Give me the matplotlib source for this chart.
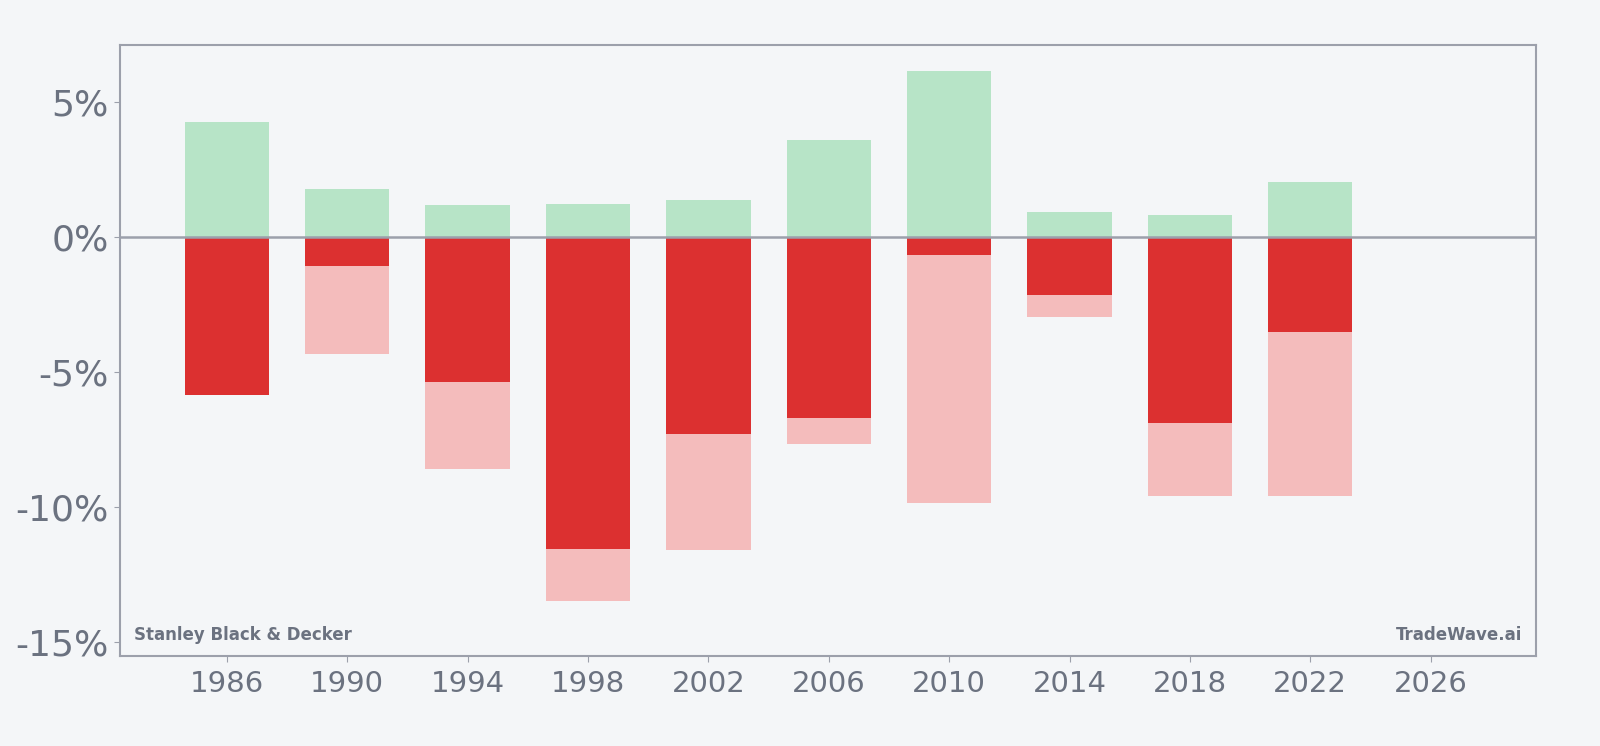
import numpy as np
import matplotlib
matplotlib.use("Agg")
import matplotlib.pyplot as plt
from matplotlib.ticker import FuncFormatter

# yearly values in percent
years = [1986, 1990, 1994, 1998, 2002, 2006, 2010, 2014, 2018, 2022]
gains = [4.25, 1.77, 1.17, 1.20, 1.36, 3.58, 6.14, 0.90, 0.79, 2.03]
closes = [-5.87, -1.09, -5.38, -11.56, -7.30, -6.70, -0.68, -2.15, -6.89, -3.54]
lows = [-5.87, -4.33, -8.62, -13.48, -11.60, -7.68, -9.86, -2.97, -9.60, -9.60]
xticks = [1986, 1990, 1994, 1998, 2002, 2006, 2010, 2014, 2018, 2022, 2026]
yticks = [-15, -10, -5, 0, 5]

bg = "#f4f6f8"
grey = "#6b7280"
spine = "#9ca0ab"

fig = plt.figure(figsize=(16, 7.46), dpi=100, facecolor=bg)
ax = fig.add_axes([0.075, 0.1206, 0.885, 0.8191])
ax.set_facecolor(bg)

w = 2.8
ax.bar(years, gains, width=w, color="#b7e4c7", zorder=2)
ax.bar(years, lows, width=w, color="#f4bcbc", zorder=2)
ax.bar(years, closes, width=w, color="#dc3030", zorder=3)
ax.axhline(0, color=spine, lw=1.8, zorder=4)

ax.set_xlim(1982.45, 2029.5)
ax.set_ylim(-15.53, 7.1)
ax.set_xticks(xticks)
ax.set_yticks(yticks)
ax.yaxis.set_major_formatter(FuncFormatter(lambda v, p: f"{v:.0f}%"))
ax.tick_params(axis="x", labelsize=21, colors=grey, length=4, color=spine, pad=6)
ax.tick_params(axis="y", labelsize=26, colors=grey, length=4, color=spine, pad=4)
for s in ax.spines.values():
    s.set_color(spine)
    s.set_linewidth(1.5)

ax.text(0.01, 0.02, "Stanley Black & Decker", transform=ax.transAxes,
        fontsize=12, fontweight="bold", color=grey, ha="left", va="bottom")
ax.text(0.99, 0.02, "TradeWave.ai", transform=ax.transAxes,
        fontsize=12, fontweight="bold", color=grey, ha="right", va="bottom")

fig.savefig("out.png", dpi=100, facecolor=bg)
